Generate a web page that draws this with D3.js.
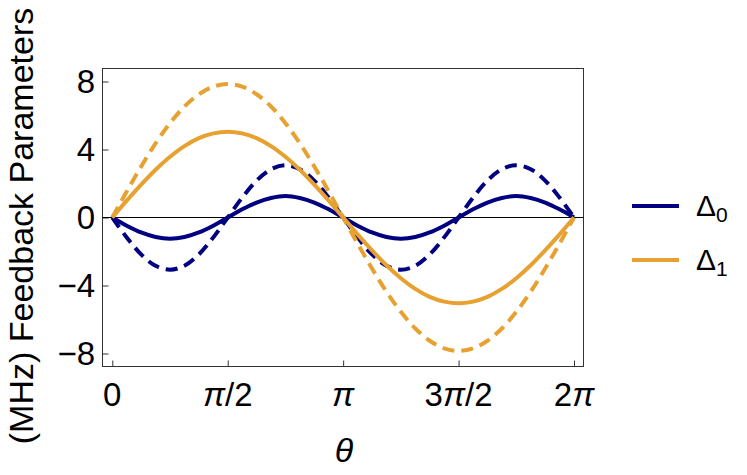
<!DOCTYPE html>
<html><head><meta charset="utf-8">
<script src="https://cdn.jsdelivr.net/npm/d3@7"></script>
<style>body{margin:0;background:#fff}svg{display:block}text{font-family:"Liberation Sans",Arial,sans-serif}</style>
</head><body><svg id="c" width="747" height="475"></svg>
<script>
// theta sample positions, in units of pi
const thetaOverPi = [0,0.0625,0.125,0.1875,0.25,0.3125,0.375,0.4375,0.5,0.5625,0.625,0.6875,0.75,0.8125,0.875,0.9375,1,
  1.0625,1.125,1.1875,1.25,1.3125,1.375,1.4375,1.5,1.5625,1.625,1.6875,1.75,1.8125,1.875,1.9375,2];
const delta0Solid = [0,-0.48,-0.88,-1.15,-1.25,-1.15,-0.88,-0.48,0,0.48,0.88,1.15,1.27,1.15,0.88,0.48,0,
  -0.48,-0.88,-1.15,-1.25,-1.15,-0.88,-0.48,0,0.48,0.88,1.15,1.27,1.15,0.88,0.48,0];
const delta0Dashed = [0,-1.17,-2.17,-2.84,-3.07,-2.84,-2.17,-1.17,0,1.17,2.17,2.84,3.07,2.84,2.17,1.17,0,
  -1.17,-2.17,-2.84,-3.07,-2.84,-2.17,-1.17,0,1.17,2.17,2.84,3.07,2.84,2.17,1.17,0];
const delta1Solid = [0,0.99,1.93,2.81,3.57,4.20,4.67,4.95,5.05,4.95,4.67,4.20,3.57,2.81,1.93,0.99,0,
  -0.99,-1.93,-2.81,-3.57,-4.20,-4.67,-4.95,-5.05,-4.95,-4.67,-4.20,-3.57,-2.81,-1.93,-0.99,0];
const delta1Dashed = [0,1.53,3.00,4.36,5.55,6.53,7.25,7.70,7.85,7.70,7.25,6.53,5.55,4.36,3.00,1.53,0,
  -1.53,-3.00,-4.36,-5.55,-6.53,-7.25,-7.70,-7.85,-7.70,-7.25,-6.53,-5.55,-4.36,-3.00,-1.53,0];
const xTickValues = [0,0.5,1,1.5,2];
const xTickLabels = ["0","π/2","π","3π/2","2π"];
const yTickValues = [-8,-4,0,4,8];
const legendLabels = ["Δ","Δ"];
const legendSubs = ["0","1"];
const navy = "#000080", orange = "#E6A131";

const svg = d3.select("#c");
const frame = {l:102.5, r:583.5, t:68.5, b:366.5};
const x = d3.scaleLinear().domain([0,2]).range([112.3,574]);
const y = d3.scaleLinear().domain([-8,8]).range([353.5,81.5]);

// frame
svg.append("rect").attr("x",frame.l).attr("y",frame.t).attr("width",frame.r-frame.l).attr("height",frame.b-frame.t)
  .attr("fill","none").attr("stroke","#333").attr("stroke-width",1);

// axes ticks (inward)
const gx = svg.append("g").attr("transform",`translate(0,${frame.b})`)
  .call(d3.axisBottom(x).tickValues(xTickValues).tickSize(-6).tickFormat(""));
const gy = svg.append("g").attr("transform",`translate(${frame.l},0)`)
  .call(d3.axisLeft(y).tickValues(yTickValues).tickSize(-6).tickFormat(""));
[gx,gy].forEach(g=>{g.select(".domain").remove();g.selectAll("line").attr("stroke","#333");});

// tick labels
svg.append("g").selectAll("text").data(xTickValues).join("text")
  .attr("x",d=>x(d)).attr("y",406).attr("text-anchor","middle").attr("font-size",33).attr("fill","#000")
  .each(function(d,i){
    const t=d3.select(this); const s=xTickLabels[i];
    for(const ch of s){ t.append("tspan").text(ch).attr("font-style", ch==="π"?"italic":null); }
  });
svg.append("g").selectAll("text").data(yTickValues).join("text")
  .attr("x",95).attr("y",d=>y(d)).attr("dy","0.36em").attr("text-anchor","end").attr("font-size",33).attr("fill","#000")
  .text(d=>d<0?"−"+Math.abs(d):String(d));

// zero line
svg.append("line").attr("x1",frame.l).attr("x2",frame.r).attr("y1",y(0)).attr("y2",y(0)).attr("stroke","#000").attr("stroke-width",1);

// curves
const line = d3.line().x(d=>x(d[0])).y(d=>y(d[1])).curve(d3.curveCatmullRom.alpha(0.5));
const series = [
  {v:delta0Dashed,c:navy,dash:"12,7"},
  {v:delta0Solid,c:navy,dash:null},
  {v:delta1Dashed,c:orange,dash:"12,7"},
  {v:delta1Solid,c:orange,dash:null}
];
const plot = svg.append("g");
series.forEach(s=>{
  plot.append("path").datum(thetaOverPi.map((t,i)=>[t,s.v[i]]))
    .attr("d",line).attr("fill","none").attr("stroke",s.c).attr("stroke-width",4)
    .attr("stroke-dasharray",s.dash);
});

// axis titles
svg.append("text").attr("x",344).attr("y",462).attr("text-anchor","middle").attr("font-size",34)
  .attr("font-style","italic").text("θ");
svg.append("text").attr("transform",`translate(33,226) rotate(-90)`).attr("text-anchor","middle")
  .attr("font-size",34).text("(MHz) Feedback Parameters");

// legend
const lg = svg.append("g");
[navy,orange].forEach((c,i)=>{
  const yy = 206 + i*54;
  lg.append("line").attr("x1",632).attr("x2",679).attr("y1",yy).attr("y2",yy).attr("stroke",c).attr("stroke-width",4);
  const t = lg.append("text").attr("x",696).attr("y",yy+10).attr("font-size",30);
  t.append("tspan").text(legendLabels[i]);
  t.append("tspan").attr("dy",6).attr("font-size",21).text(legendSubs[i]);
});
</script></body></html>
